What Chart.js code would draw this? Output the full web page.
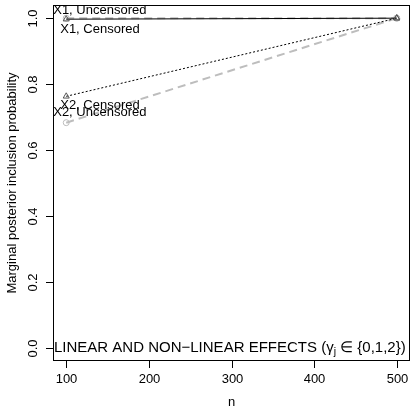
<!DOCTYPE html>
<html>
<head>
<meta charset="utf-8">
<script src="https://cdn.jsdelivr.net/npm/chart.js@4"></script>
<style>
  html, body { margin: 0; padding: 0; background: #fff; }
  #wrap { width: 415px; height: 415px; }
</style>
</head>
<body>
<div id="wrap"><canvas id="chart" width="415" height="415"></canvas></div>
<script>
const nValues = [100, 500];
const xTicks = [100, 200, 300, 400, 500];
const yTicks = [0.0, 0.2, 0.4, 0.6, 0.8, 1.0];

const x1Uncensored = [1.0, 1.0];
const x1Censored = [0.997, 1.0];
const x2Uncensored = [0.683, 1.0];
const x2Censored = [0.763, 1.0];

const FONT = '"Liberation Sans", Arial, Helvetica, sans-serif';

function pts(ys) {
  return nValues.map((n, i) => ({ x: n, y: ys[i] }));
}

// axes, box and the text labels are drawn by hand, like R base graphics
const rAxes = {
  id: "rAxes",
  afterDraw(chart) {
    const ctx = chart.ctx;
    const a = chart.chartArea;
    const xs = chart.scales.x, ys = chart.scales.y;
    ctx.save();
    ctx.strokeStyle = "#000";
    ctx.fillStyle = "#000";
    ctx.lineWidth = 1;
    ctx.strokeRect(a.left + 0.5, a.top + 0.5, a.right - a.left - 1, a.bottom - a.top - 1);

    ctx.font = "13px " + FONT;
    ctx.textAlign = "center";
    ctx.textBaseline = "middle";
    xTicks.forEach(t => {
      const px = Math.round(xs.getPixelForValue(t)) + 0.5;
      ctx.beginPath();
      ctx.moveTo(px, a.bottom);
      ctx.lineTo(px, a.bottom + 7);
      ctx.stroke();
      ctx.fillText(String(t), px, a.bottom + 18);
    });
    yTicks.forEach(t => {
      const py = Math.round(ys.getPixelForValue(t)) + 0.5;
      ctx.beginPath();
      ctx.moveTo(a.left, py);
      ctx.lineTo(a.left - 7, py);
      ctx.stroke();
      ctx.save();
      ctx.translate(a.left - 20, py);
      ctx.rotate(-Math.PI / 2);
      ctx.fillText(t.toFixed(1), 0, 0);
      ctx.restore();
    });

    ctx.fillText("n", (a.left + a.right) / 2, a.bottom + 41);
    ctx.save();
    ctx.translate(12, (a.top + a.bottom) / 2);
    ctx.rotate(-Math.PI / 2);
    ctx.fillText("Marginal posterior inclusion probability", 0, 0);
    ctx.restore();

    // series labels next to the n = 100 points
    ctx.textAlign = "left";
    const x0 = xs.getPixelForValue(nValues[0]);
    ctx.fillText("X1, Uncensored", x0 - 13, ys.getPixelForValue(x1Uncensored[0]) - 8);
    ctx.fillText("X1, Censored", x0 - 6, ys.getPixelForValue(x1Censored[0]) + 10);
    ctx.fillText("X2, Censored", x0 - 6, ys.getPixelForValue(x2Censored[0]) + 9);
    ctx.fillText("X2, Uncensored", x0 - 13, ys.getPixelForValue(x2Uncensored[0]) - 10);

    // title inside the plot at y = 0
    const ty = ys.getPixelForValue(0);
    let tx = a.left + 1;
    ctx.font = "15px " + FONT;
    const s1 = "LINEAR AND NON\u2212LINEAR EFFECTS (\u03b3";
    ctx.fillText(s1, tx, ty);
    tx += ctx.measureText(s1).width;
    ctx.font = "10.5px " + FONT;
    ctx.fillText("j", tx, ty + 4);
    tx += ctx.measureText("j").width;
    ctx.font = "15px " + FONT;
    ctx.fillText(" \u2208 {0,1,2})", tx, ty);
    ctx.restore();
  }
};

new Chart(document.getElementById("chart"), {
  type: "scatter",
  data: {
    datasets: [
      {
        label: "X1, Censored",
        data: pts(x1Censored),
        order: 1,
        showLine: true,
        borderColor: "#000",
        borderWidth: 1,
        pointStyle: "triangle",
        pointRadius: 3.5,
        pointBorderColor: "#555",
        pointBackgroundColor: "rgba(0,0,0,0)",
        pointBorderWidth: 1
      },
      {
        label: "X2, Censored",
        data: pts(x2Censored),
        order: 1,
        showLine: true,
        borderColor: "#000",
        borderWidth: 1,
        borderDash: [2, 2],
        pointStyle: "triangle",
        pointRadius: 3.5,
        pointBorderColor: "#555",
        pointBackgroundColor: "rgba(0,0,0,0)",
        pointBorderWidth: 1
      },
      {
        label: "X1, Uncensored",
        data: pts(x1Uncensored),
        order: 2,
        showLine: true,
        borderColor: "#bdbdbd",
        borderWidth: 2,
        borderDash: [8, 5],
        pointStyle: "circle",
        pointRadius: 3,
        pointBorderColor: "#bdbdbd",
        pointBackgroundColor: "rgba(0,0,0,0)",
        pointBorderWidth: 1
      },
      {
        label: "X2, Uncensored",
        data: pts(x2Uncensored),
        order: 2,
        showLine: true,
        borderColor: "#bdbdbd",
        borderWidth: 2,
        borderDash: [8, 5],
        pointStyle: "circle",
        pointRadius: 3,
        pointBorderColor: "#bdbdbd",
        pointBackgroundColor: "rgba(0,0,0,0)",
        pointBorderWidth: 1
      }
    ]
  },
  options: {
    responsive: false,
    animation: false,
    layout: { padding: { left: 53, right: 2, top: 1, bottom: 54 } },
    plugins: { legend: { display: false }, tooltip: { enabled: false } },
    scales: {
      x: { type: "linear", display: false, min: 84, max: 516 },
      y: { type: "linear", display: false, min: -0.04, max: 1.04 }
    }
  },
  plugins: [rAxes]
});
</script>
</body>
</html>
